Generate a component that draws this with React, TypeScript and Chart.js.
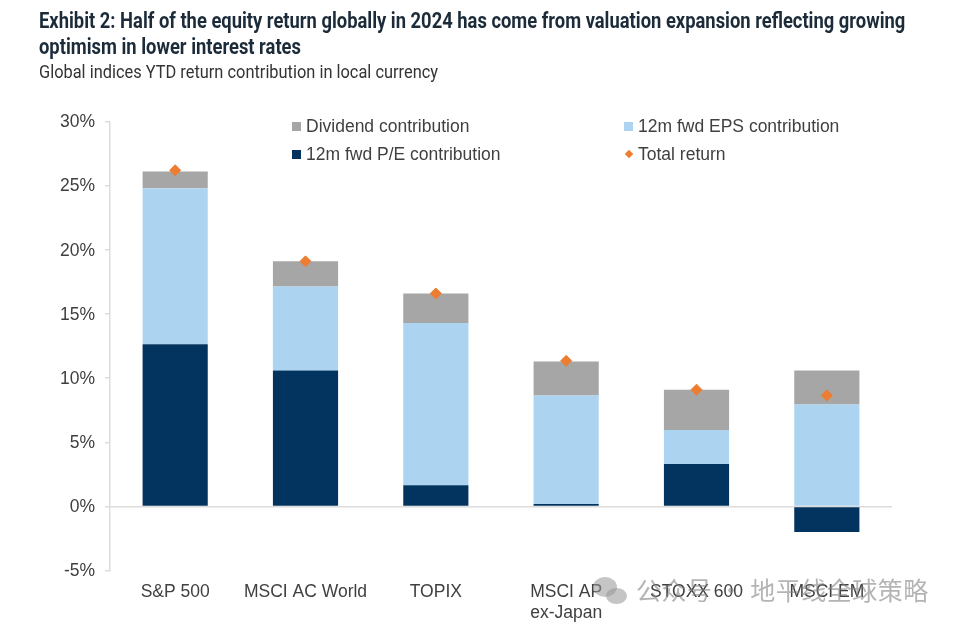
import React, { useEffect, useRef } from "react";
import { Chart, registerables } from "chart.js";

Chart.register(...registerables);

const categories: (string | string[])[] = ["S&P 500", "MSCI AC World", "TOPIX", ["MSCI AP", "ex-Japan"], "STOXX 600", "MSCI EM"];
const peContribution = [12.65, 10.6, 1.65, 0.2, 3.3, -2.0];
const epsContribution = [12.15, 6.55, 12.65, 8.45, 2.65, 7.95];
const dividendContribution = [1.3, 1.95, 2.3, 2.65, 3.15, 2.65];
const totalReturn = [26.2, 19.1, 16.6, 11.35, 9.1, 8.65];
const titleLines = [
  "Exhibit 2: Half of the equity return globally in 2024 has come from valuation expansion reflecting growing",
  "optimism in lower interest rates",
];
const subtitle = "Global indices YTD return contribution in local currency";
const watermark = "公众号 · 地平线全球策略";

const NAVY = "#03345f";
const LIGHT = "#acd3f0";
const GRAY = "#a6a6a6";
const ORANGE = "#ed7d31";
const TEXT = "#404040";
const AXIS = "#dcdcdc";
const FONT = "'Liberation Sans', Arial, sans-serif";
const HEAD = "'Roboto', sans-serif";

const abs = (left: number, top: number): React.CSSProperties => ({
  position: "absolute",
  left,
  top,
  whiteSpace: "nowrap",
});

function LegendItem({ x, y, color, label, diamond }: { x: number; y: number; color: string; label: string; diamond?: boolean }) {
  return (
    <div style={{ ...abs(x, y), display: "flex", alignItems: "center", font: `17.5px ${FONT}`, color: TEXT, height: 20 }}>
      <span
        style={{
          display: "inline-block",
          width: diamond ? 6 : 9,
          height: diamond ? 6 : 9,
          margin: diamond ? "0 6px 0 1px" : "0 5px 0 0",
          background: color,
          transform: diamond ? "rotate(45deg)" : undefined,
        }}
      />
      {label}
    </div>
  );
}

export default function App() {
  const ref = useRef<HTMLCanvasElement | null>(null);
  useEffect(() => {
    const chart = new Chart(ref.current!, {
      type: "bar",
      data: {
        labels: categories as any,
        datasets: [
          { type: "line", label: "Total return", data: totalReturn, stack: "total", showLine: false, pointStyle: "rectRot", pointRadius: 5.5, backgroundColor: ORANGE, borderColor: ORANGE, order: 0 } as any,
          { label: "12m fwd P/E contribution", data: peContribution, stack: "bars", backgroundColor: NAVY, order: 1 },
          { label: "12m fwd EPS contribution", data: epsContribution, stack: "bars", backgroundColor: LIGHT, order: 2 },
          { label: "Dividend contribution", data: dividendContribution, stack: "bars", backgroundColor: GRAY, order: 3 },
        ],
      },
      options: {
        responsive: false,
        animation: false,
        layout: { padding: { left: 0, right: 68, top: 121.5, bottom: 0 } },
        plugins: { legend: { display: false }, title: { display: false }, tooltip: { enabled: false } },
        datasets: { bar: { barPercentage: 0.5, categoryPercentage: 1 } },
        scales: {
          x: {
            stacked: true,
            grid: { display: false, drawTicks: false },
            border: { display: false },
            ticks: { autoSkip: false, maxRotation: 0, minRotation: 0, padding: 11, color: TEXT, font: { family: FONT, size: 17.5 } },
            afterFit: (s: any) => { s.height = 58.4; },
          },
          y: {
            stacked: true,
            min: -5,
            max: 30,
            grid: {
              color: (c: any) => (c.tick && c.tick.value === 0 ? AXIS : "transparent"),
              tickColor: AXIS,
              tickLength: 5,
              lineWidth: 1.5,
            },
            border: { color: AXIS, width: 1.5 },
            ticks: { stepSize: 5, padding: 10, labelOffset: 1, color: TEXT, font: { family: FONT, size: 17.5 }, callback: (v: any) => `${v}%` },
            afterFit: (s: any) => { s.width = 110; },
          },
        },
      } as any,
    });
    return () => chart.destroy();
  }, []);

  return (
    <div style={{ position: "absolute", left: 0, top: 0, width: 960, height: 629, background: "#fff", overflow: "hidden" }}>
      <canvas ref={ref} width={960} height={629} style={{ position: "absolute", left: 0, top: 0 }} />
      <div style={{ ...abs(39, 8), font: `bold 22px ${HEAD}`, color: "#1c2b39", lineHeight: "26px", transform: "scaleX(0.835)", transformOrigin: "left top" }}>
        {titleLines.map((t) => (<div key={t}>{t}</div>))}
      </div>
      <div style={{ ...abs(39, 61), font: `18.5px ${HEAD}`, color: "#333", lineHeight: "22px", transform: "scaleX(0.886)", transformOrigin: "left top" }}>{subtitle}</div>
      <LegendItem x={292} y={116} color={GRAY} label="Dividend contribution" />
      <LegendItem x={624} y={116} color={LIGHT} label="12m fwd EPS contribution" />
      <LegendItem x={292} y={144} color={NAVY} label="12m fwd P/E contribution" />
      <LegendItem x={625} y={144} color={ORANGE} label="Total return" diamond />
      <div style={{ position: "absolute", left: 593, top: 577, width: 24, height: 20, borderRadius: "50%", background: "rgba(150,150,150,0.55)" }} />
      <div style={{ position: "absolute", left: 606, top: 588, width: 21, height: 16, borderRadius: "50%", background: "rgba(150,150,150,0.55)" }} />
      <div style={{ ...abs(636, 575), font: `25px 'Noto Sans CJK SC', sans-serif`, color: "rgba(130,130,130,0.6)", lineHeight: "28px", letterSpacing: 0.5 }}>{watermark}</div>
    </div>
  );
}
